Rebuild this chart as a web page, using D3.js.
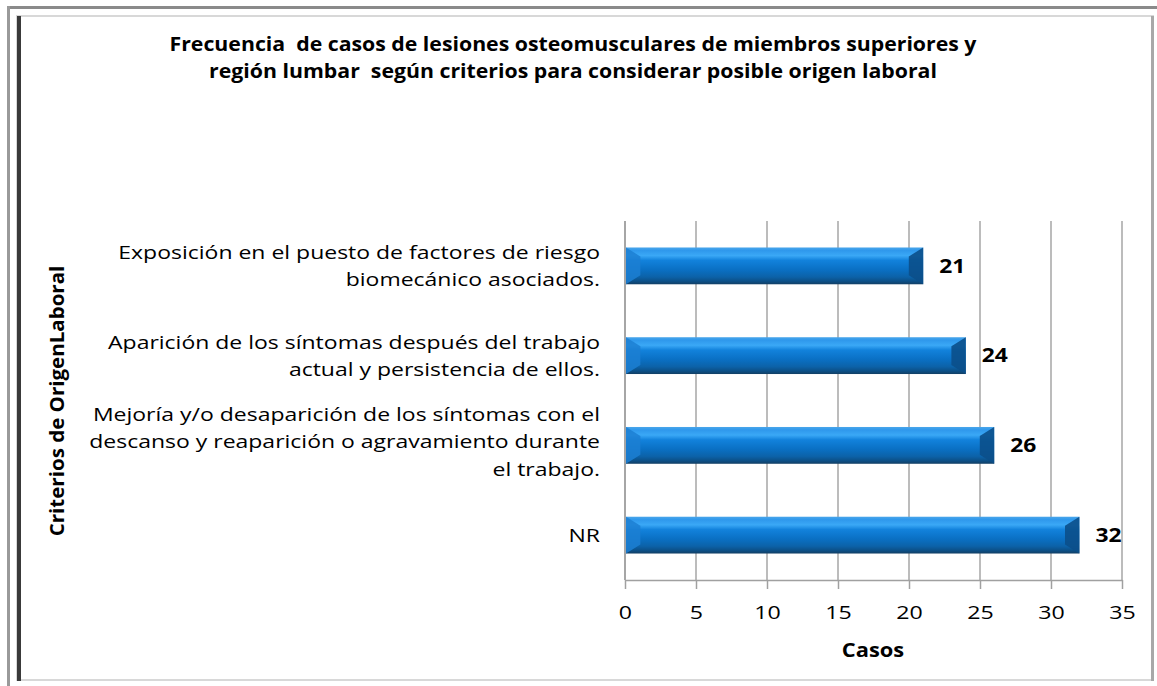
<!DOCTYPE html>
<html>
<head>
<meta charset="utf-8">
<script src="https://cdn.jsdelivr.net/npm/d3@7"></script>
<style>
  body { margin: 0; background: #fff; }
  text { font-family: "Open Sans", "Liberation Sans", Arial, sans-serif; fill: #000; white-space: pre; }
</style>
</head>
<body>
<div id="chart"></div>
<script>
// data (top to bottom)
var categories = ["Exposicion", "Aparicion", "Mejoria", "NR"];
var categoryLines = [
    ["Exposición en el puesto de factores de riesgo", "biomecánico asociados."],
    ["Aparición de los síntomas después del trabajo", "actual y persistencia de ellos."],
    ["Mejoría y/o desaparición de los síntomas con el", "descanso y reaparición o agravamiento durante", "el trabajo."],
    ["NR"]
];
var casos = [21, 24, 26, 32];
var xTicks = [0, 5, 10, 15, 20, 25, 30, 35];
var titleLines = [
    "Frecuencia  de casos de lesiones osteomusculares de miembros superiores y",
    "región lumbar  según criterios para considerar posible origen laboral"
];
var xTitle = "Casos";
var yTitle = "Criterios de OrigenLaboral";

var w = 1157, h = 686;
var plotLeft = 625, plotRight = 1122, plotTop = 221, plotBottom = 580;

var svg = d3.select("#chart").append("svg")
    .attr("width", w)
    .attr("height", h);

// frame
svg.append("rect").attr("x", 7).attr("y", 6).attr("width", 1150).attr("height", 3).attr("fill", "#8a8a8a");
svg.append("rect").attr("x", 7).attr("y", 6).attr("width", 3).attr("height", 680).attr("fill", "#9a9a9a");
svg.append("rect").attr("x", 17).attr("y", 16).attr("width", 1136).attr("height", 664)
    .attr("fill", "#fff").attr("stroke", "#d8d8d8").attr("stroke-width", 2);
svg.append("rect").attr("x", 17).attr("y", 16).attr("width", 4).attr("height", 665).attr("fill", "#3a3a3a");
svg.append("rect").attr("x", 1151).attr("y", 16).attr("width", 3).attr("height", 665).attr("fill", "#a8a8a8");

var defs = svg.append("defs");
var g1 = defs.append("linearGradient").attr("id", "barGrad")
    .attr("x1", 0).attr("y1", 0).attr("x2", 0).attr("y2", 1);
[[0, "#4aa6ea"], [0.08, "#2f98ec"], [0.22, "#3aa8f6"], [0.35, "#1282dc"], [0.6, "#0a70c4"],
 [0.8, "#0c62a8"], [0.92, "#0c4f86"], [1, "#133f64"]].forEach(function (s) {
    g1.append("stop").attr("offset", s[0]).attr("stop-color", s[1]);
});

var x = d3.scaleLinear().domain([0, 35]).range([plotLeft, plotRight]);
var y = d3.scaleBand().domain(categories).range([plotTop, plotBottom])
    .paddingInner(0.59).paddingOuter(0.295);

// gridlines
svg.append("g").selectAll("line")
    .data(xTicks.slice(1))
    .enter().append("line")
    .attr("x1", function (d) { return x(d); })
    .attr("x2", function (d) { return x(d); })
    .attr("y1", plotTop)
    .attr("y2", plotBottom)
    .attr("stroke", "#a6a6a6")
    .attr("stroke-width", 1.5);

// x axis
var xaxis = d3.axisBottom(x)
    .tickValues(xTicks)
    .tickSize(9)
    .tickPadding(17)
    .tickSizeOuter(0);
var gx = svg.append("g")
    .attr("transform", "translate(0," + plotBottom + ")")
    .call(xaxis);
gx.select(".domain").attr("stroke", "#a0a0a0").attr("stroke-width", 1.5);
gx.selectAll(".tick line").attr("stroke", "#a0a0a0").attr("stroke-width", 1.5);
gx.selectAll(".tick text")
    .style("font-family", "Open Sans, Liberation Sans, Arial, sans-serif")
    .style("font-size", "19px")
    .attr("transform", "scale(1.22,1)")
    .attr("fill", "#000");

// y axis line
svg.append("line")
    .attr("x1", plotLeft).attr("x2", plotLeft)
    .attr("y1", plotTop).attr("y2", plotBottom)
    .attr("stroke", "#a6a6a6").attr("stroke-width", 2);

// bars
var bars = svg.append("g").selectAll("g")
    .data(casos)
    .enter().append("g");

bars.append("rect")
    .attr("x", x(0) + 1)
    .attr("y", function (d, i) { return y(categories[i]); })
    .attr("width", function (d) { return x(d) - x(0) - 1; })
    .attr("height", y.bandwidth())
    .attr("fill", "url(#barGrad)");

// left bevel
bars.append("path")
    .attr("d", function (d, i) {
        var y0 = y(categories[i]), bh = y.bandwidth(), x0 = x(0) + 1, b = 9;
        return "M" + x0 + "," + y0 + " L" + (x0 + b * 1.6) + "," + (y0 + b) + " L" + (x0 + b * 1.6) + "," + (y0 + bh - b) +
            " L" + x0 + "," + (y0 + bh) + " Z";
    })
    .attr("fill", "#1c7fd2")
    .attr("opacity", 0.85);

// right bevel
bars.append("path")
    .attr("d", function (d, i) {
        var y0 = y(categories[i]), bh = y.bandwidth(), x1 = x(d), b = 9;
        return "M" + x1 + "," + y0 + " L" + (x1 - b * 1.6) + "," + (y0 + b) + " L" + (x1 - b * 1.6) + "," + (y0 + bh - b) +
            " L" + x1 + "," + (y0 + bh) + " Z";
    })
    .attr("fill", "#0b4f8a")
    .attr("opacity", 0.9);

// value labels
bars.append("text")
    .attr("transform", function (d, i) {
        return "translate(" + (x(d) + 16) + "," + (y(categories[i]) + y.bandwidth() / 2) + ") scale(1.2,1)";
    })
    .attr("dy", "0.35em")
    .style("font-size", "19px")
    .style("font-weight", "bold")
    .text(function (d) { return d; });

// category labels
var lineH = 27.5;
svg.append("g")
    .attr("transform", "translate(600,0) scale(1.21,1)")
    .selectAll("text")
    .data(categoryLines)
    .enter().append("text")
    .attr("text-anchor", "end")
    .style("font-size", "19px")
    .each(function (lines, i) {
        var cy = y(categories[i]) + y.bandwidth() / 2;
        var start = cy - (lines.length - 1) * lineH / 2;
        if (lines.length === 3) start -= 4;
        d3.select(this).selectAll("tspan")
            .data(lines)
            .enter().append("tspan")
            .attr("x", 0)
            .attr("y", function (l, j) { return start + j * lineH; })
            .attr("dy", "0.35em")
            .text(function (l) { return l; });
    });

// title
svg.append("g")
    .attr("transform", "translate(573,0) scale(1.12,1)")
    .selectAll("text")
    .data(titleLines)
    .enter().append("text")
    .attr("x", 0)
    .attr("y", function (d, i) { return 51 + i * 27; })
    .attr("text-anchor", "middle")
    .style("font-size", "19px")
    .style("font-weight", "bold")
    .text(function (d) { return d; });

// axis titles
svg.append("text")
    .attr("transform", "translate(873,657) scale(1.15,1)")
    .attr("text-anchor", "middle")
    .style("font-size", "19px")
    .style("font-weight", "bold")
    .text(xTitle);

svg.append("text")
    .attr("transform", "translate(64,401) rotate(-90) scale(1.08,1)")
    .attr("text-anchor", "middle")
    .style("font-size", "19px")
    .style("font-weight", "bold")
    .text(yTitle);
</script>
</body>
</html>
